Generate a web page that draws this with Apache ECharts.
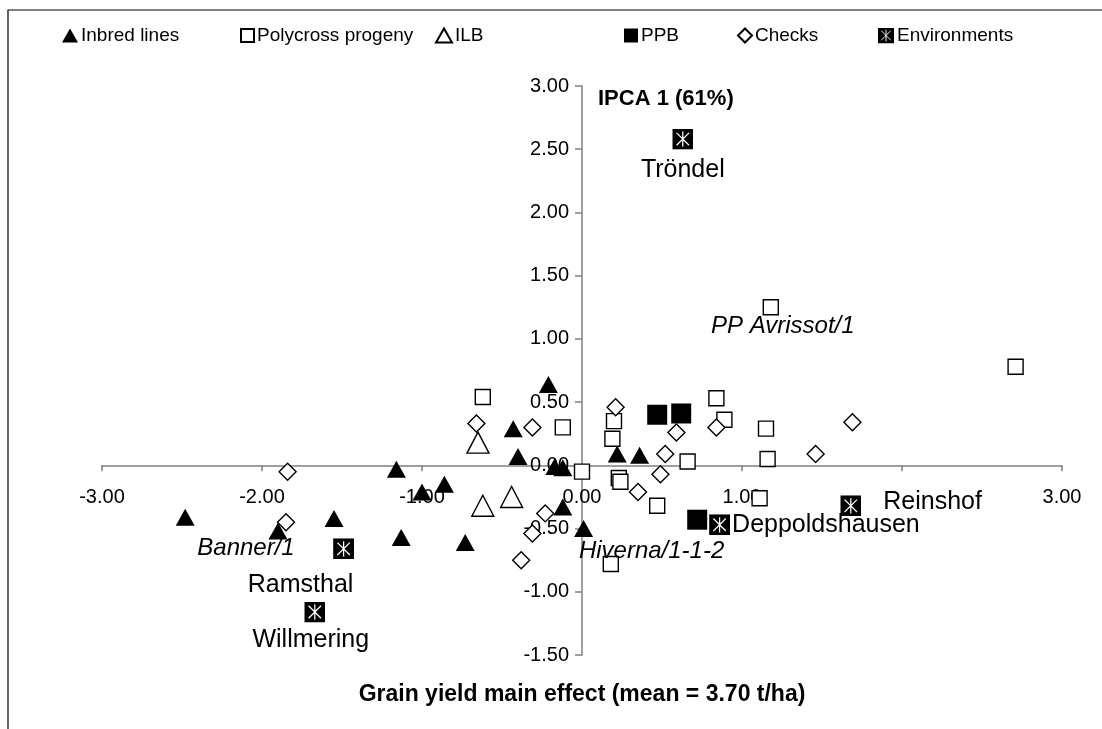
<!DOCTYPE html>
<html>
<head>
<meta charset="utf-8">
<script src="https://cdn.jsdelivr.net/npm/echarts@6/dist/echarts.min.js"></script>
<style>
  html, body { margin: 0; padding: 0; background: #fff; }
  #chart { width: 1102px; height: 729px; }
</style>
</head>
<body>
<div id="chart"></div>
<script>
// IPCA 1 score against grain yield main effect, by genotype group and environment
var inbredLines = [[-2.48,-0.41],[-1.90,-0.52],[-1.55,-0.42],[-1.16,-0.03],[-1.00,-0.21],[-0.86,-0.15],[-1.13,-0.57],[-0.73,-0.61],[-0.43,0.29],[-0.40,0.07],[-0.21,0.64],[-0.17,-0.01],[-0.12,-0.02],[-0.12,-0.33],[0.01,-0.50],[0.22,0.09],[0.36,0.08]];
var polycrossProgeny = [[-0.62,0.54],[-0.12,0.30],[0.00,-0.05],[0.19,0.21],[0.20,0.35],[0.23,-0.10],[0.24,-0.13],[0.47,-0.32],[0.18,-0.78],[0.66,0.03],[0.84,0.53],[0.89,0.36],[1.15,0.29],[1.16,0.05],[1.11,-0.26],[1.18,1.25],[2.71,0.78]];
var ilb = [[-0.65,0.18],[-0.62,-0.32],[-0.44,-0.25]];
var ppb = [[0.47,0.40],[0.62,0.41],[0.72,-0.43]];
var checks = [[-1.84,-0.05],[-1.85,-0.45],[-0.66,0.33],[-0.31,0.30],[-0.23,-0.38],[-0.31,-0.54],[-0.38,-0.75],[0.21,0.46],[0.59,0.26],[0.52,0.09],[0.49,-0.07],[0.35,-0.21],[0.84,0.30],[1.46,0.09],[1.69,0.34]];
var environmentNames = ['Tröndel','Ramsthal','Willmering','Deppoldshausen','Reinshof'];
var environmentScores = [[0.63,2.58],[-1.49,-0.66],[-1.67,-1.16],[0.86,-0.47],[1.68,-0.32]];

// named genotypes: series, index in its array, name
var namedGenotypes = [
  { series: 'inbred', index: 1, name: 'Banner/1' },
  { series: 'inbred', index: 14, name: 'Hiverna/1-1-2' },
  { series: 'polycross', index: 15, name: 'PP Avrissot/1' }
];

var groupNames = ['Inbred lines','Polycross progeny','ILB','PPB','Checks','Environments'];
var xTicks = { min: -3, max: 3, step: 1 };
var yTicks = { min: -1.5, max: 3, step: 0.5 };

var FONT = 'Liberation Sans, Arial, sans-serif';
var TICK_SIZE = 20;
var LEGEND_SIZE = 19;
var ENV_LABEL_SIZE = 25;
var GENO_LABEL_SIZE = 24;

// label placement for named points
var genotypeLabelStyle = {
  'Banner/1': { offset: [-32, 17] },
  'Hiverna/1-1-2': { offset: [68, 23] },
  'PP Avrissot/1': { offset: [12, 19] }
};
var envLabelStyle = {
  'Tröndel': { position: 'bottom', distance: 8, offset: [0, 0] },
  'Ramsthal': { position: 'bottom', distance: 4, offset: [-43, 9] },
  'Willmering': { position: 'bottom', distance: 2, offset: [-4, 3] },
  'Deppoldshausen': { position: 'right', distance: 2, offset: [0, 0] },
  'Reinshof': { position: 'right', distance: 20, offset: [0, -4], backgroundColor: '#fff' }
};

function withNames(points, key) {
  return points.map(function (p, i) {
    var hit = namedGenotypes.filter(function (g) { return g.series === key && g.index === i; })[0];
    if (!hit) return { value: p };
    var st = genotypeLabelStyle[hit.name];
    return {
      value: p,
      name: hit.name,
      label: {
        show: true, position: 'inside', offset: st.offset,
        formatter: hit.name, fontStyle: 'italic', fontSize: GENO_LABEL_SIZE, color: '#000', fontFamily: FONT
      }
    };
  });
}

var envSvg = "<svg xmlns='http://www.w3.org/2000/svg' width='22' height='22' viewBox='0 0 22 22'>" +
  "<rect x='0' y='0' width='22' height='22' fill='#000'/>" +
  "<path d='M4.5 4.5L17.5 17.5M17.5 4.5L4.5 17.5M11 3V19' stroke='#fff' stroke-width='1.3' fill='none'/></svg>";
var envSymbol = 'image://data:image/svg+xml;utf8,' + encodeURIComponent(envSvg);

var envData = environmentScores.map(function (p, i) {
  var n = environmentNames[i];
  var st = envLabelStyle[n];
  var lab = {
    show: true, position: st.position, distance: st.distance, offset: st.offset,
    formatter: n, fontSize: ENV_LABEL_SIZE, color: '#000', fontFamily: FONT
  };
  if (st.backgroundColor) { lab.backgroundColor = st.backgroundColor; lab.padding = [2, 2]; }
  return { value: p, name: n, label: lab };
});

var openStyle = { color: '#fff', borderColor: '#000', borderWidth: 1.4, opacity: 1 };
var filledStyle = { color: '#000', borderColor: '#000', borderWidth: 0, opacity: 1 };

var series = [
  { name: groupNames[0], type: 'scatter', symbol: 'triangle', symbolSize: [19, 17], itemStyle: filledStyle, data: withNames(inbredLines, 'inbred'), z: 3 },
  { name: groupNames[1], type: 'scatter', symbol: 'rect', symbolSize: 15, itemStyle: openStyle, data: withNames(polycrossProgeny, 'polycross'), z: 3 },
  { name: groupNames[2], type: 'scatter', symbol: 'triangle', symbolSize: [22, 21], itemStyle: openStyle, data: ilb, z: 3 },
  { name: groupNames[3], type: 'scatter', symbol: 'rect', symbolSize: 20, itemStyle: filledStyle, data: ppb, z: 3 },
  { name: groupNames[4], type: 'scatter', symbol: 'diamond', symbolSize: [17, 17], itemStyle: openStyle, data: checks, z: 3 },
  { name: groupNames[5], type: 'scatter', symbol: envSymbol, symbolSize: 21, itemStyle: { opacity: 1 }, data: envData, z: 4 }
];

var legendLeft = [57, 235, 430, 619, 732, 873];
var legendIconSize = [[16, 14], [13, 13], [16, 14], [14, 14], [14, 14], [16, 16]];
var legends = groupNames.map(function (n, i) {
  return {
    data: [n], left: legendLeft[i], top: 21, itemGap: 0,
    itemWidth: legendIconSize[i][0], itemHeight: legendIconSize[i][1],
    textStyle: { fontSize: LEGEND_SIZE, color: '#000', fontFamily: FONT, padding: [0, 0, 0, -2] },
    selectedMode: false
  };
});

function fmt(v) { return v.toFixed(2); }

var chart = echarts.init(document.getElementById('chart'), null, { renderer: 'canvas' });
chart.setOption({
  animation: false,
  backgroundColor: '#fff',
  graphic: [{
    type: 'rect', shape: { x: 8, y: 10, width: 1300, height: 900 },
    style: { fill: 'none', stroke: '#000', lineWidth: 1.2 }, silent: true, z: -1
  }],
  legend: legends,
  grid: { left: 102, right: 40, top: 86, bottom: 74, containLabel: false, outerBoundsMode: 'none' },
  xAxis: {
    type: 'value', min: xTicks.min, max: xTicks.max, interval: xTicks.step,
    axisLine: { onZero: false, lineStyle: { color: '#808080', width: 1.5 } },
    axisTick: { show: true, inside: false, length: 6, lineStyle: { color: '#808080', width: 1.5 } },
    axisLabel: { formatter: fmt, fontSize: TICK_SIZE, color: '#000', fontFamily: FONT, margin: 22 },
    splitLine: { show: false },
    name: 'Grain yield main effect (mean = 3.70 t/ha)',
    nameLocation: 'middle', nameGap: 218,
    nameTextStyle: { fontSize: 23, fontWeight: 'bold', color: '#000', fontFamily: FONT }
  },
  yAxis: {
    type: 'value', min: yTicks.min, max: yTicks.max, interval: yTicks.step,
    axisLine: { onZero: false, lineStyle: { color: '#808080', width: 1.5 } },
    axisTick: { show: true, inside: false, length: 7, lineStyle: { color: '#808080', width: 1.5 } },
    axisLabel: { formatter: fmt, fontSize: TICK_SIZE, color: '#000', fontFamily: FONT, margin: 13 },
    splitLine: { show: false },
    name: 'IPCA 1 (61%)',
    nameLocation: 'end', nameGap: -13,
    nameTextStyle: { fontSize: 22, fontWeight: 'bold', color: '#000', fontFamily: FONT, align: 'left', verticalAlign: 'middle', padding: [0, 0, 0, 16] }
  },
  series: series
});

// move both axes (line, ticks, labels, name) onto the zero crossing
var corner = chart.convertToPixel({ gridIndex: 0 }, [xTicks.min, yTicks.min]);
var zero = chart.convertToPixel({ gridIndex: 0 }, [0, 0]);
chart.setOption({
  xAxis: { offset: -(corner[1] - zero[1]) },
  yAxis: { offset: -(zero[0] - corner[0]) }
});
</script>
</body>
</html>
